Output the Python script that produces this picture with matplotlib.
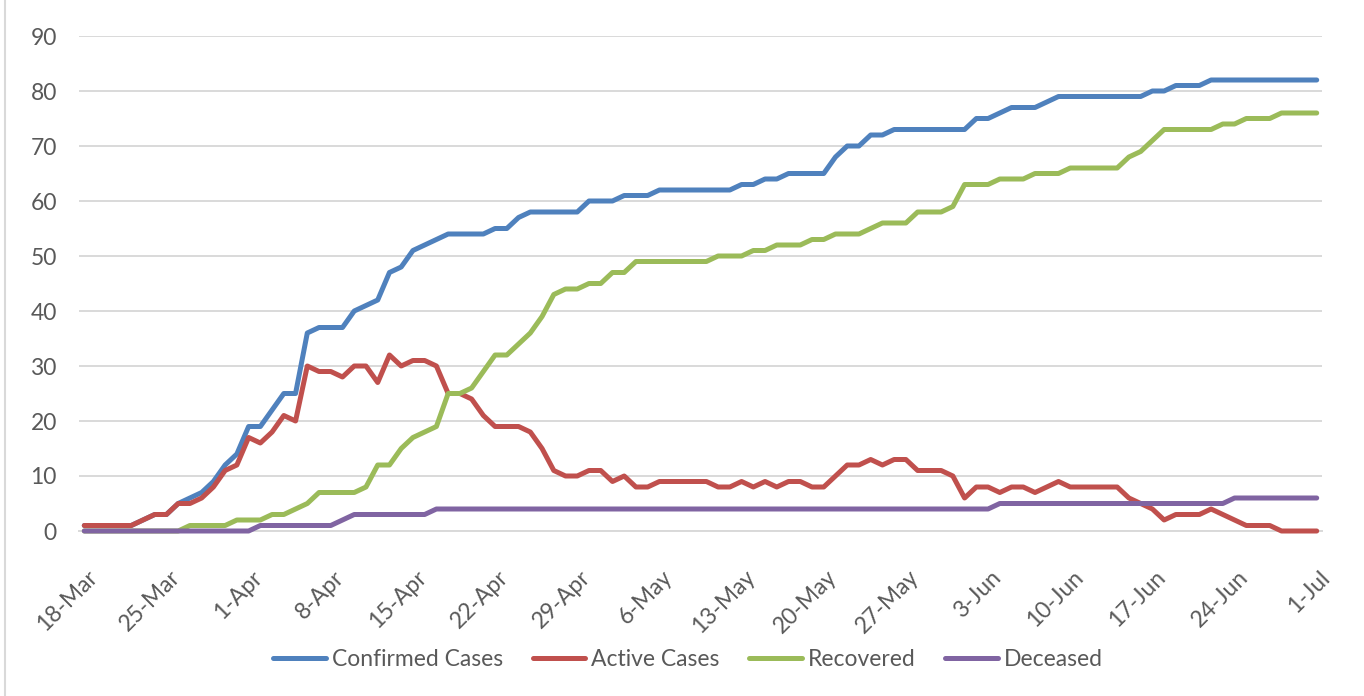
import matplotlib
matplotlib.use("Agg")
import matplotlib.pyplot as plt
from matplotlib.lines import Line2D

plt.rcParams['font.family'] = ['Lato', 'DejaVu Sans']

# daily values, 18-Mar to 1-Jul
confirmed = [1, 1, 1, 1, 1, 2, 3, 3, 5, 6, 7, 9, 12, 14, 19, 19, 22, 25, 25, 36,
             37, 37, 37, 40, 41, 42, 47, 48, 51, 52, 53, 54, 54, 54, 54, 55, 55, 57, 58, 58,
             58, 58, 58, 60, 60, 60, 61, 61, 61, 62, 62, 62, 62, 62, 62, 62, 63, 63, 64, 64,
             65, 65, 65, 65, 68, 70, 70, 72, 72, 73, 73, 73, 73, 73, 73, 73, 75, 75, 76, 77,
             77, 77, 78, 79, 79, 79, 79, 79, 79, 79, 79, 80, 80, 81, 81, 81, 82, 82, 82, 82,
             82, 82, 82, 82, 82, 82]
active = [1, 1, 1, 1, 1, 2, 3, 3, 5, 5, 6, 8, 11, 12, 17, 16, 18, 21, 20, 30,
          29, 29, 28, 30, 30, 27, 32, 30, 31, 31, 30, 25, 25, 24, 21, 19, 19, 19, 18, 15,
          11, 10, 10, 11, 11, 9, 10, 8, 8, 9, 9, 9, 9, 9, 8, 8, 9, 8, 9, 8,
          9, 9, 8, 8, 10, 12, 12, 13, 12, 13, 13, 11, 11, 11, 10, 6, 8, 8, 7, 8,
          8, 7, 8, 9, 8, 8, 8, 8, 8, 6, 5, 4, 2, 3, 3, 3, 4, 3, 2, 1,
          1, 1, 0, 0, 0, 0]
recovered = [0, 0, 0, 0, 0, 0, 0, 0, 0, 1, 1, 1, 1, 2, 2, 2, 3, 3, 4, 5,
             7, 7, 7, 7, 8, 12, 12, 15, 17, 18, 19, 25, 25, 26, 29, 32, 32, 34, 36, 39,
             43, 44, 44, 45, 45, 47, 47, 49, 49, 49, 49, 49, 49, 49, 50, 50, 50, 51, 51, 52,
             52, 52, 53, 53, 54, 54, 54, 55, 56, 56, 56, 58, 58, 58, 59, 63, 63, 63, 64, 64,
             64, 65, 65, 65, 66, 66, 66, 66, 66, 68, 69, 71, 73, 73, 73, 73, 73, 74, 74, 75,
             75, 75, 76, 76, 76, 76]
deceased = [0, 0, 0, 0, 0, 0, 0, 0, 0, 0, 0, 0, 0, 0, 0, 1, 1, 1, 1, 1,
            1, 1, 2, 3, 3, 3, 3, 3, 3, 3, 4, 4, 4, 4, 4, 4, 4, 4, 4, 4,
            4, 4, 4, 4, 4, 4, 4, 4, 4, 4, 4, 4, 4, 4, 4, 4, 4, 4, 4, 4,
            4, 4, 4, 4, 4, 4, 4, 4, 4, 4, 4, 4, 4, 4, 4, 4, 4, 4, 5, 5,
            5, 5, 5, 5, 5, 5, 5, 5, 5, 5, 5, 5, 5, 5, 5, 5, 5, 5, 6, 6,
            6, 6, 6, 6, 6, 6]
tick_labels = ['18-Mar', '25-Mar', '1-Apr', '8-Apr', '15-Apr', '22-Apr', '29-Apr', '6-May',
               '13-May', '20-May', '27-May', '3-Jun', '10-Jun', '17-Jun', '24-Jun', '1-Jul']

days = list(range(len(confirmed)))
text_col = '#595959'
grid_col = '#D9D9D9'

fig = plt.figure(figsize=(13.64, 6.96), dpi=100)
ax = fig.add_axes([79 / 1364, 1 - 531 / 696, (1322 - 79) / 1364, (531 - 36) / 696])

series = [
    ('Confirmed Cases', confirmed, '#4F81BD'),
    ('Active Cases', active, '#C0504D'),
    ('Recovered', recovered, '#9BBB59'),
    ('Deceased', deceased, '#8064A2'),
]
for name, vals, col in series:
    ax.plot(days, vals, color=col, lw=3.6, label=name, clip_on=False,
            solid_capstyle='round', solid_joinstyle='round', zorder=3)

ax.set_xlim(-0.45, len(days) - 1 + 0.45)
ax.set_ylim(0, 90)
ax.set_yticks(range(0, 91, 10))
ax.set_xticks(days[::7])
ax.tick_params(axis='x', labelbottom=False)

# rotated date labels, anchored at their right end below each tick
for d, lab in zip(days[::7], tick_labels):
    ax.annotate(lab, (d, 0), xycoords=('data', 'axes fraction'),
                xytext=(10, -43), textcoords='offset pixels',
                rotation=45, ha='right', va='center', rotation_mode='anchor',
                fontsize=16.5, color=text_col, annotation_clip=False)

ax.tick_params(axis='both', length=0, labelsize=16.5, labelcolor=text_col)
ax.tick_params(axis='y', pad=16)
ax.grid(axis='y', color=grid_col, lw=1.4)
ax.set_axisbelow(True)
for s in ['top', 'right', 'left']:
    ax.spines[s].set_visible(False)
ax.spines['bottom'].set_color(grid_col)
ax.spines['bottom'].set_linewidth(1.4)

fig.legend(loc='center', bbox_to_anchor=(688 / 1364, 1 - 660 / 696), ncol=4,
           frameon=False, fontsize=16.5, labelcolor=text_col, handlelength=2.3,
           handletextpad=0.25, columnspacing=1.3)

# chart area border on the left
fig.add_artist(Line2D([5 / 1364, 5 / 1364], [0, 1], color=grid_col, lw=1.5,
                      transform=fig.transFigure))

fig.savefig('out.png', dpi=100)
